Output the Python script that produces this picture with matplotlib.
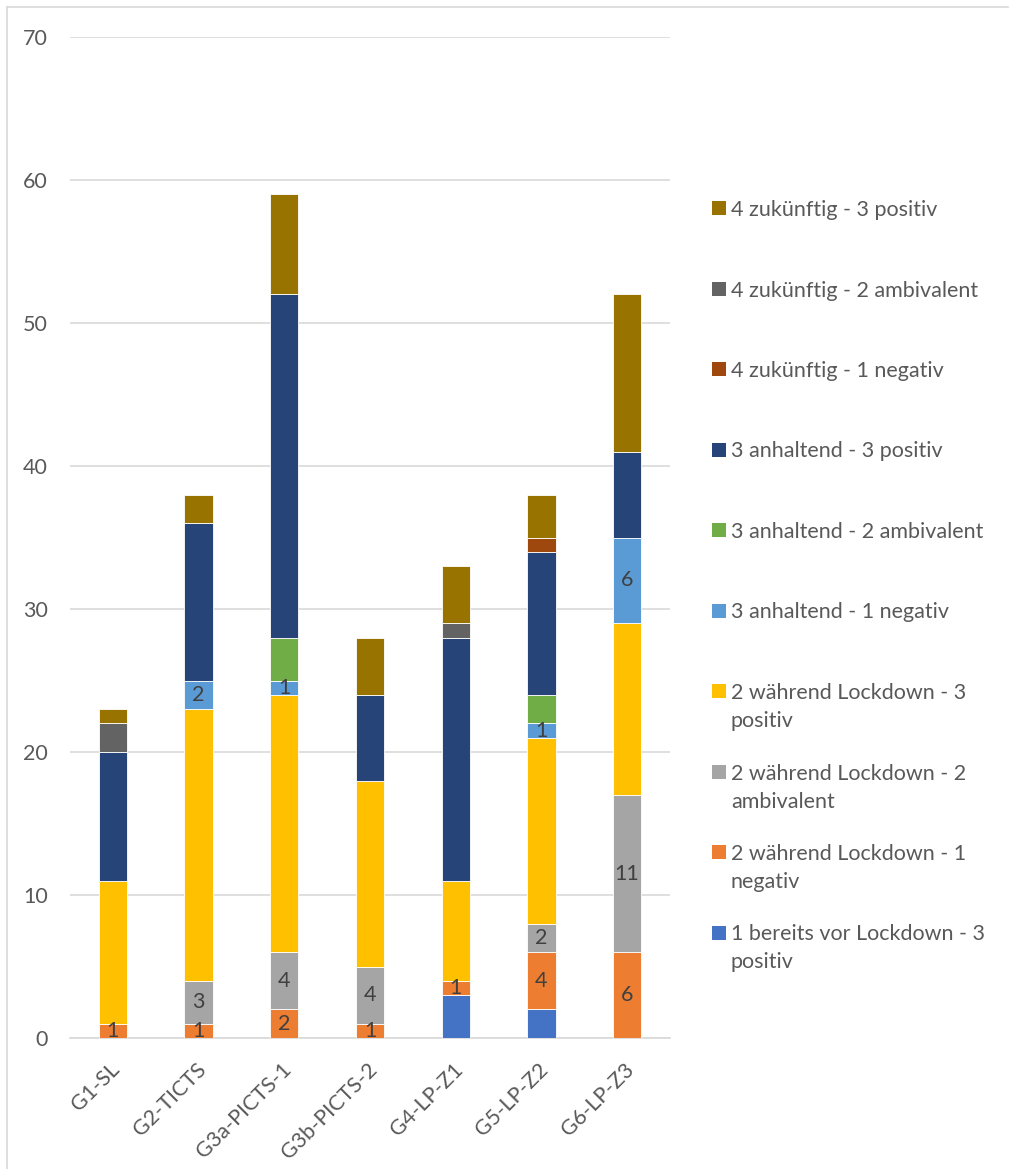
import numpy as np
import matplotlib
matplotlib.use("Agg")
import matplotlib.pyplot as plt
from matplotlib.patches import Rectangle
from matplotlib.lines import Line2D
import matplotlib.transforms as mtransforms

plt.rcParams['font.family'] = ['Lato', 'DejaVu Sans']

# categories and series (bottom to top)
groups = ["G1-SL", "G2-TICTS", "G3a-PICTS-1", "G3b-PICTS-2", "G4-LP-Z1", "G5-LP-Z2", "G6-LP-Z3"]
series_names = [
    "1 bereits vor Lockdown - 3\npositiv",
    "2 während Lockdown - 1\nnegativ",
    "2 während Lockdown - 2\nambivalent",
    "2 während Lockdown - 3\npositiv",
    "3 anhaltend - 1 negativ",
    "3 anhaltend - 2 ambivalent",
    "3 anhaltend - 3 positiv",
    "4 zukünftig - 1 negativ",
    "4 zukünftig - 2 ambivalent",
    "4 zukünftig - 3 positiv",
]
vor_pos = [0, 0, 0, 0, 3, 2, 0]
waehrend_neg = [1, 1, 2, 1, 1, 4, 6]
waehrend_amb = [0, 3, 4, 4, 0, 2, 11]
waehrend_pos = [10, 19, 18, 13, 7, 13, 12]
anhaltend_neg = [0, 2, 1, 0, 0, 1, 6]
anhaltend_amb = [0, 0, 3, 0, 0, 2, 0]
anhaltend_pos = [9, 11, 24, 6, 17, 10, 6]
zukunft_neg = [0, 0, 0, 0, 0, 1, 0]
zukunft_amb = [2, 0, 0, 0, 1, 0, 0]
zukunft_pos = [1, 2, 7, 4, 4, 3, 11]

series_values = [vor_pos, waehrend_neg, waehrend_amb, waehrend_pos, anhaltend_neg,
                 anhaltend_amb, anhaltend_pos, zukunft_neg, zukunft_amb, zukunft_pos]
colors = ["#4472C4", "#ED7D31", "#A5A5A5", "#FFC000", "#5B9BD5",
          "#70AD47", "#264478", "#9E480E", "#636363", "#997300"]
labelled = [1, 2, 4]  # series that carry data labels

W, H = 1009, 1169
fig = plt.figure(figsize=(W / 100, H / 100), dpi=100)
ax = fig.add_axes([70 / W, 1 - 1038 / H, 600 / W, (1038 - 37) / H])

x = np.arange(len(groups))
bottom = np.zeros(len(groups))
for i, (vals, col) in enumerate(zip(series_values, colors)):
    vals = np.array(vals, dtype=float)
    bars = ax.bar(x, vals, 0.33, bottom=bottom, color=col, edgecolor='white', linewidth=0.6, zorder=3)
    if i in labelled:
        for b, v in zip(bars, vals):
            if v > 0:
                ax.text(b.get_x() + b.get_width() / 2, b.get_y() + v / 2, f"{int(v)}",
                        ha='center', va='center', fontsize=15.5, color='#404040', zorder=4)
    bottom += vals

ax.set_xlim(-0.5, len(groups) - 0.5)
ax.set_ylim(0, 70)
ax.set_yticks(np.arange(0, 71, 10))
ax.yaxis.grid(True, color='#D9D9D9', linewidth=1.2, zorder=0)
for s in ['top', 'right', 'left']:
    ax.spines[s].set_visible(False)
ax.spines['bottom'].set_color('#D9D9D9')
ax.spines['bottom'].set_linewidth(1.2)
ax.tick_params(axis='y', length=0, pad=16, labelsize=15.5, labelcolor='#595959')
ax.tick_params(axis='x', length=0, pad=6, labelsize=15.5, labelcolor='#595959')
ax.set_xticks(x)
ax.set_xticklabels(groups, rotation=45, ha='right', va='center', rotation_mode='anchor')
offset = mtransforms.ScaledTranslation(4 / 100, -20 / 100, fig.dpi_scale_trans)
for lab in ax.get_xticklabels():
    lab.set_transform(lab.get_transform() + offset)

# legend, drawn by hand in pixel positions (reverse order)
for k, i in enumerate(range(len(series_names) - 1, -1, -1)):
    yc = 208 + 80.5 * k
    fig.add_artist(Rectangle((712 / W, 1 - (yc + 7) / H), 14 / W, 14 / H,
                             transform=fig.transFigure, facecolor=colors[i], edgecolor='none'))
    for j, line in enumerate(series_names[i].split("\n")):
        fig.text(731 / W, 1 - (yc + 28 * j) / H, line, ha='left', va='center_baseline',
                 fontsize=15.5, color='#595959')

# chart area border (top and left)
fig.add_artist(Line2D([7 / W, 7 / W], [0, 1 - 7 / H], transform=fig.transFigure, color='#D9D9D9', linewidth=1.2))
fig.add_artist(Line2D([7 / W, 1008 / W], [1 - 7 / H, 1 - 7 / H], transform=fig.transFigure, color='#D9D9D9', linewidth=1.2))

fig.savefig("out.png", dpi=100, facecolor='white')
